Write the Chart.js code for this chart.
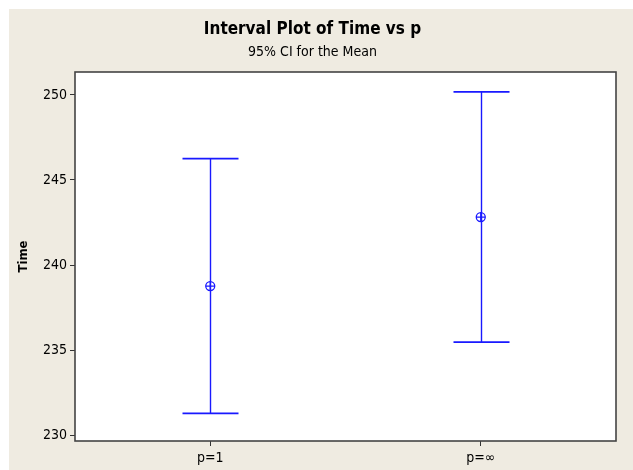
<!DOCTYPE html>
<html>
<head>
<meta charset="utf-8">
<script src="https://cdn.jsdelivr.net/npm/chart.js@4.4.1/dist/chart.umd.min.js"></script>
<style>
  html, body { margin: 0; padding: 0; background: #ffffff; }
  #wrap { position: absolute; left: 9px; top: 9px; width: 624px; height: 461px; background: #efebe1; }
</style>
</head>
<body>
<div id="wrap"><canvas id="intervalChart" width="624" height="461"></canvas></div>
<script>
// groups and 95% CI values
const groups = ['p=1', 'p=\u221e'];
const means = [238.76, 242.82];
const lowerCI = [231.27, 235.46];
const upperCI = [246.25, 250.18];
const yTicks = [230, 235, 240, 245, 250];
const yMin = 229.65;
const yMax = 251.35;

const FONT = '"DejaVu Sans Condensed", Tahoma, "DejaVu Sans", sans-serif';
const BLUE = 'rgb(25, 25, 255)';

// whiskers + caps for each interval, drawn through the scales
const intervalPlugin = {
    id: 'intervals',
    beforeDatasetsDraw(chart) {
        const ctx = chart.ctx;
        const xs = chart.scales.x;
        const ys = chart.scales.y;
        const capHalf = 28;
        ctx.save();
        ctx.strokeStyle = BLUE;
        ctx.lineWidth = 1.4;
        groups.forEach((g, i) => {
            const x = Math.round(xs.getPixelForValue(i)) + 0.5;
            const yLo = ys.getPixelForValue(lowerCI[i]);
            const yHi = ys.getPixelForValue(upperCI[i]);
            ctx.beginPath();
            ctx.moveTo(x, yLo);
            ctx.lineTo(x, yHi);
            ctx.stroke();
            ctx.lineWidth = 1.8;
            ctx.beginPath();
            ctx.moveTo(x - capHalf, yLo);
            ctx.lineTo(x + capHalf, yLo);
            ctx.moveTo(x - capHalf, yHi);
            ctx.lineTo(x + capHalf, yHi);
            ctx.stroke();
            ctx.lineWidth = 1.4;
        });
        ctx.restore();
    }
};

// white plot panel with dark frame
const framePlugin = {
    id: 'frame',
    beforeDraw(chart) {
        const a = chart.chartArea;
        chart.ctx.save();
        chart.ctx.fillStyle = '#ffffff';
        chart.ctx.fillRect(a.left, a.top, a.right - a.left, a.bottom - a.top);
        chart.ctx.restore();
    },
    afterDraw(chart) {
        const a = chart.chartArea;
        const ctx = chart.ctx;
        ctx.save();
        ctx.strokeStyle = '#444444';
        ctx.lineWidth = 1.6;
        ctx.strokeRect(a.left, a.top, a.right - a.left, a.bottom - a.top);
        ctx.restore();
    }
};

const ctx = document.getElementById('intervalChart').getContext('2d');
new Chart(ctx, {
    type: 'line',
    data: {
        labels: groups,
        datasets: [
            {
                label: 'Mean',
                data: means,
                showLine: false,
                pointStyle: 'circle',
                pointRadius: 4.5,
                pointBorderWidth: 1.3,
                pointBorderColor: BLUE,
                pointBackgroundColor: 'rgba(0,0,0,0)'
            },
            {
                label: 'Mean cross',
                data: means,
                showLine: false,
                pointStyle: 'cross',
                pointRadius: 4.5,
                pointBorderWidth: 1.3,
                pointBorderColor: BLUE
            }
        ]
    },
    options: {
        responsive: false,
        animation: false,
        layout: { padding: { left: 0, right: 17, top: 0, bottom: 0 } },
        plugins: {
            legend: { display: false },
            tooltip: { enabled: false },
            title: {
                display: true,
                text: 'Interval Plot of Time vs p',
                color: '#000000',
                font: { family: FONT, size: 17, weight: 'bold' },
                padding: { top: 10, bottom: 0 }
            },
            subtitle: {
                display: true,
                text: '95% CI for the Mean',
                color: '#000000',
                font: { family: FONT, size: 14 },
                padding: { top: 4.2, bottom: 11.6 }
            }
        },
        scales: {
            x: {
                type: 'category',
                offset: true,
                grid: { display: true, drawOnChartArea: false, drawTicks: true, tickLength: 5, color: '#333333', offset: false },
                border: { display: false },
                ticks: { color: '#000000', font: { family: FONT, size: 14 }, padding: 4 },
                afterFit(scale) { scale.height = 29; }
            },
            y: {
                min: yMin,
                max: yMax,
                grid: { display: true, drawOnChartArea: false, drawTicks: true, tickLength: 5, color: '#333333' },
                border: { display: false },
                ticks: { color: '#000000', font: { family: FONT, size: 14 }, padding: 3 },
                afterBuildTicks(scale) { scale.ticks = yTicks.map(v => ({ value: v })); },
                title: {
                    display: true,
                    text: 'Time',
                    color: '#000000',
                    font: { family: FONT, size: 13, weight: 'bold' },
                    padding: { top: 7, bottom: 0 }
                },
                afterFit(scale) { scale.width = 66; }
            }
        }
    },
    plugins: [framePlugin, intervalPlugin]
});
</script>
</body>
</html>
